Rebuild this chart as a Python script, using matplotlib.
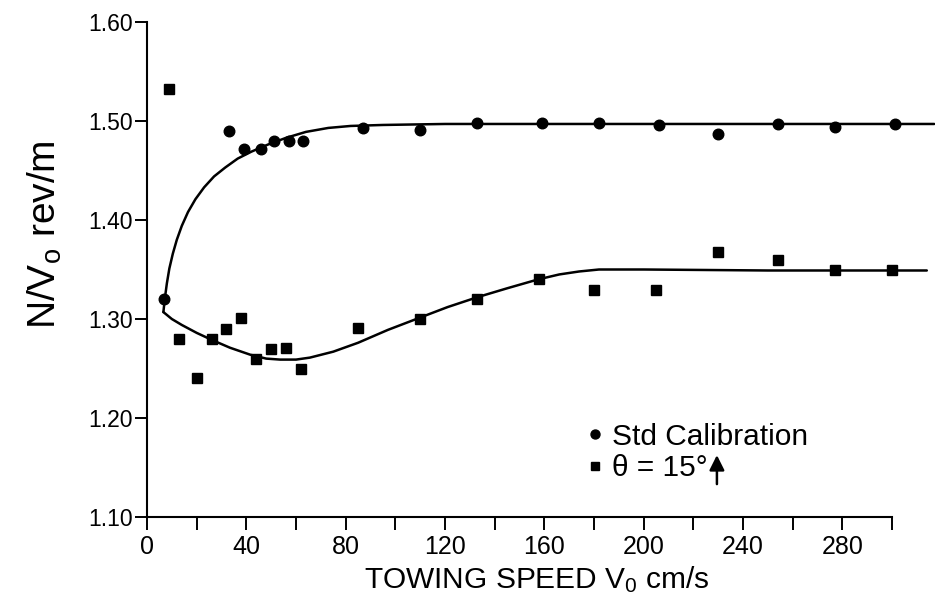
import matplotlib
matplotlib.use("Agg")
import matplotlib.pyplot as plt
from matplotlib.ticker import FixedLocator, FuncFormatter

# ---- data ----
std_x = [7, 33, 39, 46, 51, 57, 63, 87, 110, 133, 159, 182, 206, 230, 254, 277, 301]
std_y = [1.320, 1.490, 1.472, 1.472, 1.480, 1.480, 1.480, 1.493, 1.491, 1.498,
         1.498, 1.498, 1.496, 1.487, 1.497, 1.494, 1.497]

th_x = [9, 13, 20, 26, 32, 38, 44, 50, 56, 62, 85, 110, 133, 158, 180, 205, 230, 254, 277, 300]
th_y = [1.532, 1.280, 1.240, 1.280, 1.290, 1.301, 1.260, 1.270, 1.271, 1.249,
        1.291, 1.300, 1.320, 1.340, 1.329, 1.329, 1.368, 1.360, 1.349, 1.349]

# hand-drawn fit curves
fit_std_x = [6.6, 7.2, 8.0, 9.0, 10.4, 12.0, 14.0, 16.5, 19.5, 23.0, 27.0, 31.5,
             36.5, 42.0, 48.5, 56.0, 64.0, 73.0, 82.0, 95.0, 120, 200, 317]
fit_std_y = [1.307, 1.321, 1.336, 1.351, 1.366, 1.380, 1.394, 1.408, 1.421, 1.433,
             1.444, 1.453, 1.462, 1.469, 1.476, 1.483, 1.489, 1.493, 1.495, 1.496,
             1.497, 1.497, 1.497]

fit_th_x = [6.6, 10.0, 14.0, 20, 26, 33.4, 41.5, 48, 53.6, 60, 65.6, 75, 85, 97, 109.5,
            121, 133, 145, 157.5, 166, 174, 182, 200, 250, 314]
fit_th_y = [1.307, 1.300, 1.294, 1.286, 1.279, 1.271, 1.264, 1.260, 1.259, 1.259,
            1.261, 1.267, 1.276, 1.289, 1.301, 1.312, 1.322, 1.331, 1.340, 1.345,
            1.348, 1.350, 1.350, 1.349, 1.349]

x_ticks = list(range(0, 301, 20))
x_labels = [0, 40, 80, 120, 160, 200, 240, 280]
y_ticks = [1.10, 1.20, 1.30, 1.40, 1.50, 1.60]

# ---- fonts ----
base = 'Liberation Sans'
plt.rcParams['font.family'] = [base, 'DejaVu Sans']
plt.rcParams['mathtext.fontset'] = 'custom'
plt.rcParams['mathtext.rm'] = base
plt.rcParams['mathtext.it'] = base

fig = plt.figure(figsize=(9.35, 5.99), dpi=100)
W, H = 935, 599
ax = fig.add_axes([147 / W, (H - 517) / H, (935 - 147) / W, (517 - 22) / H])
ax.set_xlim(0, 317.3)
ax.set_ylim(1.10, 1.60)

ax.plot(fit_std_x, fit_std_y, color='black', lw=1.8, solid_capstyle='round', solid_joinstyle='round')
ax.plot(fit_th_x, fit_th_y, color='black', lw=1.8, solid_capstyle='round', solid_joinstyle='round')
h1, = ax.plot(std_x, std_y, 'o', color='black', ms=7.6, ls='none', label='Std Calibration')
h2, = ax.plot(th_x, th_y, 's', color='black', ms=6.6, ls='none', label='θ = 15°')

for s in ['top', 'right']:
    ax.spines[s].set_visible(False)
for s in ['left', 'bottom']:
    ax.spines[s].set_linewidth(1.5)
ax.spines['bottom'].set_bounds(0, 300)
ax.spines['left'].set_bounds(1.10, 1.60)

ax.xaxis.set_major_locator(FixedLocator(x_ticks))
ax.xaxis.set_major_formatter(FuncFormatter(lambda v, p: f"{int(round(v))}" if int(round(v)) in x_labels else ""))
ax.yaxis.set_major_locator(FixedLocator(y_ticks))
ax.yaxis.set_major_formatter(FuncFormatter(lambda v, p: f"{v:.2f}"))
ax.tick_params(axis='x', direction='out', length=9, width=1.4, pad=4, labelsize=18)
ax.tick_params(axis='y', direction='out', length=9, width=1.4, pad=1, labelsize=16.5)

ax.set_xlabel(r'TOWING SPEED V$_{\mathrm{0}}$ cm/s', fontsize=21.5)
ax.xaxis.set_label_coords(0.495, -0.095)
ax.set_ylabel(r'N/V$_{\mathrm{o}}$ rev/m', fontsize=28)
ax.yaxis.set_label_coords(-0.105, 0.57)

leg = ax.legend(handles=[h1, h2], loc='upper left', bbox_to_anchor=(0.545, 0.215),
                frameon=False, fontsize=21.5, handlelength=0.45, handletextpad=0.35,
                labelspacing=0.12, borderaxespad=0, markerscale=0.85)

# arrow after "θ = 15°"
fig.canvas.draw()
t = leg.get_texts()[1]
bb = t.get_window_extent()
x0 = bb.x1 + 9
ax.annotate('', xy=(x0, bb.y1 - 1), xytext=(x0, bb.y0 - 2), xycoords='figure pixels',
            textcoords='figure pixels',
            arrowprops=dict(arrowstyle='-|>,head_length=0.9,head_width=0.45', color='black', lw=1.8,
                            shrinkA=0, shrinkB=0))

fig.savefig('out.png', dpi=100)
